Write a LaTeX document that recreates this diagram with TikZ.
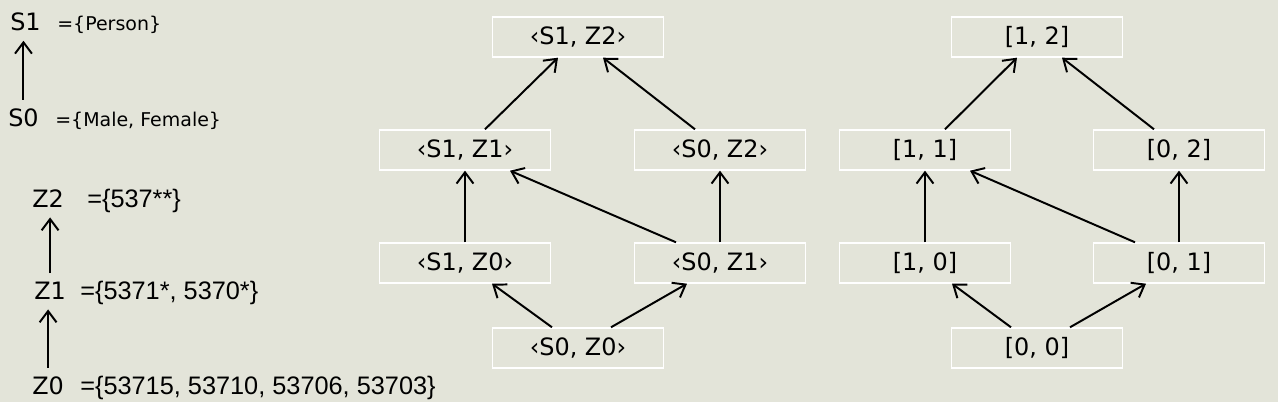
\documentclass[tikz,border=0pt]{standalone}
\usepackage{fontspec}
\setmainfont{DejaVu Sans}
\newfontfamily\numfont{Liberation Sans}
\usetikzlibrary{arrows.meta,positioning}
\definecolor{slidebg}{HTML}{E3E4D9}

\begin{document}
\begin{tikzpicture}[
    x=0.025cm, y=-0.025cm,
    lattice/.style={
      rectangle, draw=white, line width=1pt,
      minimum width=4.275cm, minimum height=1cm, inner sep=0pt,
      font=\fontsize{17}{20}\selectfont
    },
    level/.style={anchor=base west, inner xsep=0pt, inner ysep=6.5pt,
      font=\fontsize{17}{20}\selectfont},
    setlabel/.style={anchor=base west, inner sep=0pt, font=\fontsize{13.5}{16}\selectfont},
    numset/.style={setlabel, font=\numfont\fontsize{18}{21}\selectfont},
    arrow/.style={-{Straight Barb[length=8pt,width=12pt]}, line width=1.4pt}
  ]
  \fill[slidebg] (0,0) rectangle (1278,402);

  % hierarchies of the two attributes
  \node[level]    (s1) at (10,31)  {S1};
  \node[setlabel] (s1set) at (57,31) {=\{Person\}};
  \node[level]    (s0) at (8,127)  {S0};
  \node[setlabel] (s0set) at (55,127) {=\{Male, Female\}};

  \node[level]  (z2) at (32,208) {Z2};
  \node[numset] (z2set) at (87,208) {=\{537**\}};
  \node[level]  (z1) at (34,300) {Z1};
  \node[numset] (z1set) at (80,300) {=\{5371*, 5370*\}};
  \node[level]  (z0) at (32,395) {Z0};
  \node[numset] (z0set) at (80,395) {=\{53715, 53710, 53706, 53703\}};

  \draw[arrow] (s0.north) -- (s0.north |- s1.south);
  \draw[arrow] (z1.north) -- (z1.north |- z2.south);
  \draw[arrow] (z0.north) -- (z0.north |- z1.south);

  % generalization lattice
  \node[lattice] (s1z2) at (578,37)  {‹S1, Z2›};
  \node[lattice] (s1z1) at (465,150) {‹S1, Z1›};
  \node[lattice] (s0z2) at (720,150) {‹S0, Z2›};
  \node[lattice] (s1z0) at (465,263) {‹S1, Z0›};
  \node[lattice] (s0z1) at (720,263) {‹S0, Z1›};
  \node[lattice] (s0z0) at (578,348) {‹S0, Z0›};

  \draw[arrow] ([xshift=0.5cm]s1z1.north) -- ([xshift=-0.5cm]s1z2.south);
  \draw[arrow] ([xshift=-0.625cm]s0z2.north) -- ([xshift=0.625cm]s1z2.south);
  \draw[arrow] (s1z0) -- (s1z1);
  \draw[arrow] (s0z1) -- (s0z2);
  \draw[arrow] ([xshift=-1.1cm]s0z1.north) -- ([xshift=1.125cm]s1z1.south);
  \draw[arrow] ([xshift=-0.65cm]s0z0.north) -- ([xshift=0.675cm]s1z0.south);
  \draw[arrow] ([xshift=0.825cm]s0z0.north) -- ([xshift=-0.825cm]s0z1.south);

  % distance vectors
  \node[lattice] (v12) at (1037,37)  {[1, 2]};
  \node[lattice] (v11) at (925,150)  {[1, 1]};
  \node[lattice] (v02) at (1179,150) {[0, 2]};
  \node[lattice] (v10) at (925,263)  {[1, 0]};
  \node[lattice] (v01) at (1179,263) {[0, 1]};
  \node[lattice] (v00) at (1037,348) {[0, 0]};

  \draw[arrow] ([xshift=0.5cm]v11.north) -- ([xshift=-0.5cm]v12.south);
  \draw[arrow] ([xshift=-0.625cm]v02.north) -- ([xshift=0.625cm]v12.south);
  \draw[arrow] (v10) -- (v11);
  \draw[arrow] (v01) -- (v02);
  \draw[arrow] ([xshift=-1.1cm]v01.north) -- ([xshift=1.125cm]v11.south);
  \draw[arrow] ([xshift=-0.65cm]v00.north) -- ([xshift=0.675cm]v10.south);
  \draw[arrow] ([xshift=0.825cm]v00.north) -- ([xshift=-0.825cm]v01.south);
\end{tikzpicture}
\end{document}
